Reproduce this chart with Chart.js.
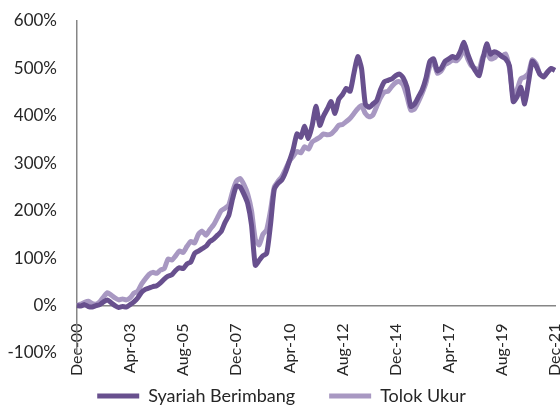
<!DOCTYPE html>
<html>
<head>
<meta charset="utf-8">
<script src="https://cdn.jsdelivr.net/npm/chart.js@4"></script>
<style>
  html, body { margin: 0; padding: 0; background: #fff; overflow: hidden; }
  #wrap { width: 560px; height: 415px; }
</style>
</head>
<body>
<div id="wrap"><canvas id="chart" width="560" height="415"></canvas></div>
<script>
// every second month from Dec-00 to Dec-21
const monthNames = ['Jan','Feb','Mar','Apr','May','Jun','Jul','Aug','Sep','Oct','Nov','Dec'];
const categories = [];
for (let m = 0; m <= 252; m += 2) {
    const idx = (11 + m) % 12;
    const yr = 2000 + Math.floor((11 + m) / 12);
    categories.push(monthNames[idx] + '-' + String(yr % 100).padStart(2, '0'));
}

const tickLabels = ['Dec-00','Apr-03','Aug-05','Dec-07','Apr-10','Aug-12','Dec-14','Apr-17','Aug-19','Dec-21'];

const syariahBerimbang = [
    0, -1, 2, -2, -3, 0, 2, 8, 12, 6,
    0, -4, -2, -3, 2, 8, 16, 28, 34, 37,
    40, 42, 48, 56, 62, 65, 74, 80, 78, 88,
    92, 110, 115, 120, 125, 135, 140, 148, 156, 175,
    190, 225, 252, 250, 235, 215, 170, 85, 95, 105,
    110, 170, 245, 258, 265, 282, 305, 330, 362, 355,
    378, 352, 380, 420, 380, 400, 415, 430, 405, 435,
    445, 458, 452, 490, 525, 500, 425, 418, 425, 432,
    455, 472, 475, 478, 485, 488, 480, 460, 420, 425,
    440, 455, 480, 515, 520, 495, 500, 515, 520, 525,
    522, 535, 555, 530, 510, 495, 485, 520, 552, 530,
    535, 532, 525, 520, 505, 430, 440, 460, 425, 470,
    515, 505, 488, 482, 492, 500, 496
];

const tolokUkur = [
    0, 3, 7, 9, 4, 3, 8, 18, 27, 22,
    16, 12, 14, 12, 16, 26, 30, 45, 56, 66,
    70, 68, 75, 78, 98, 96, 105, 115, 112, 125,
    135, 132, 150, 157, 148, 160, 170, 185, 200, 205,
    212, 240, 262, 268, 255, 235, 200, 140, 128, 150,
    160, 200, 250, 262, 272, 288, 305, 315, 325, 322,
    335, 330, 345, 350, 355, 362, 360, 362, 370, 380,
    382, 388, 395, 405, 415, 422, 405, 398, 402, 420,
    438, 450, 452, 462, 470, 472, 465, 440, 412, 415,
    430, 448, 470, 505, 512, 490, 495, 508, 512, 518,
    516, 525, 540, 520, 505, 500, 498, 525, 532, 520,
    522, 530, 526, 530, 500, 440, 455, 478, 482, 490,
    518, 510, 488, 484, 492, 500, 496
];

const darkPurple = '#68508e';
const lightPurple = '#a898c2';
const textColor = '#262626';
const fontFamily = 'Lato, "Open Sans", sans-serif';

new Chart(document.getElementById('chart'), {
    type: 'line',
    data: {
        labels: categories,
        datasets: [
            {
                label: 'Syariah Berimbang',
                data: syariahBerimbang,
                borderColor: darkPurple,
                backgroundColor: darkPurple,
                borderWidth: 5,
                pointRadius: 0,
                pointStyle: 'line',
                tension: 0.2
            },
            {
                label: 'Tolok Ukur',
                data: tolokUkur,
                borderColor: lightPurple,
                backgroundColor: lightPurple,
                borderWidth: 5,
                pointRadius: 0,
                pointStyle: 'line',
                tension: 0.2
            }
        ]
    },
    options: {
        responsive: false,
        animation: false,
        layout: { padding: { left: 8, right: 5, top: 21, bottom: 0 } },
        plugins: {
            tooltip: { enabled: false },
            legend: {
                position: 'bottom',
                labels: {
                    usePointStyle: true,
                    pointStyleWidth: 42,
                    padding: 34,
                    color: textColor,
                    font: { family: fontFamily, size: 18 }
                }
            }
        },
        scales: {
            x: {
                position: { y: 0 },
                grid: { display: false },
                border: { display: true, color: '#868686', width: 1.5 },
                afterFit: function(scale) { scale.paddingLeft = 0; scale.paddingRight = 0; },
                ticks: {
                    autoSkip: false,
                    maxRotation: 90,
                    minRotation: 90,
                    padding: 10,
                    color: textColor,
                    font: { family: fontFamily, size: 16 },
                    callback: function(value) {
                        const lbl = this.getLabelForValue(value);
                        return tickLabels.includes(lbl) ? lbl : '';
                    }
                }
            },
            y: {
                min: -100,
                max: 600,
                grid: { display: false },
                border: { display: true, color: '#868686', width: 1.5 },
                afterFit: function(scale) { scale.width = 69; scale.paddingTop = 0; scale.paddingBottom = 0; },
                ticks: {
                    stepSize: 100,
                    padding: 12,
                    color: textColor,
                    font: { family: fontFamily, size: 17 },
                    callback: v => v + '%'
                }
            }
        }
    }
});
</script>
</body>
</html>
